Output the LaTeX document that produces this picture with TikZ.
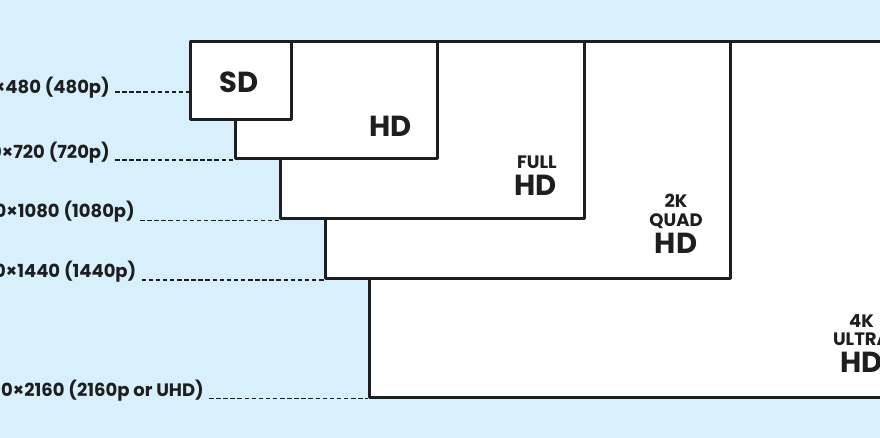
\documentclass[tikz,border=0pt]{standalone}
\usepackage{fontspec}
\setmainfont{Poppins}
\usetikzlibrary{positioning}

\definecolor{skyback}{RGB}{215,240,252}
\definecolor{ink}{RGB}{30,30,30}

\tikzset{
  resbox/.style={draw=ink,line width=3pt,fill=white,inner sep=0pt,
    anchor=north west,line join=round},
  reslabel/.style={font=\fontsize{18}{18}\selectfont\bfseries,text=ink,
    inner sep=0pt,anchor=base east},
  guide/.style={draw=ink,line width=1.8pt,dash pattern=on 4.5pt off 2.6pt},
  bigname/.style={font=\fontsize{29}{29}\selectfont\bfseries,text=ink,inner sep=0pt},
  smallname/.style={font=\fontsize{18}{18}\selectfont\bfseries,text=ink,inner sep=0pt}
}

\begin{document}
\begin{tikzpicture}[x=1pt,y=-1pt]

\useasboundingbox (0,0) rectangle (880,438);
\clip (0,0) rectangle (880,438);
\fill[skyback] (0,0) rectangle (880,438);

% boxes, largest first
\node[resbox,minimum width=606pt,minimum height=355.5pt] (uhd) at (368,40) {};
\node[resbox,minimum width=404.5pt,minimum height=237pt] (qhd) at (324,40) {};
\node[resbox,minimum width=303.5pt,minimum height=177.5pt] (fhd) at (279,40) {};
\node[resbox,minimum width=202pt,minimum height=117pt] (hd) at (234,40) {};
\node[resbox,minimum width=101pt,minimum height=78pt] (sd) at (189,40) {};

% names in the boxes
\node[bigname,anchor=base] (sdname) at (239,93) {SD};
\node[bigname,anchor=base east] (hdname) at (412,137) {HD};
\node[smallname,anchor=base east] (fhdtop) at (557,169) {FULL};
\node[bigname,anchor=base east] (fhdname) at (557,196) {HD};
\node[smallname,anchor=base] (qhdtop) at (676,208) {2K};
\node[smallname,anchor=base] (qhdmid) at (676,227) {QUAD};
\node[bigname,anchor=base] (qhdname) at (676,254) {HD};
\node[smallname,anchor=base] (uhdtop) at (861.5,327) {4K};
\node[smallname,anchor=base] (uhdmid) at (861.5,345) {ULTRA};
\node[bigname,anchor=base] (uhdname) at (861.5,372) {HD};

% sizes on the left
\node[reslabel] (l480) at (110,93.5) {×480 (480p)};
\node[reslabel] (l720) at (110,158.5) {0×720 (720p)};
\node[reslabel] (l1080) at (135,218) {0×1080 (1080p)};
\node[reslabel] (l1440) at (136.5,277) {0×1440 (1440p)};
\node[reslabel] (l2160) at (204,396.5) {0×2160 (2160p or UHD)};

\draw[guide] ([xshift=5pt,yshift=1.5pt]l480.base east) -- ([yshift=1.5pt]l480.base east -| sd.west);
\draw[guide] ([xshift=5pt]l720.base east |- hd.south west) -- (hd.south west);
\draw[guide] ([xshift=5pt]l1080.base east |- fhd.south west) -- (fhd.south west);
\draw[guide] ([xshift=5pt]l1440.base east |- qhd.south west) -- (qhd.south west);
\draw[guide] ([xshift=5pt]l2160.base east |- uhd.south west) -- (uhd.south west);
\end{tikzpicture}
\end{document}
